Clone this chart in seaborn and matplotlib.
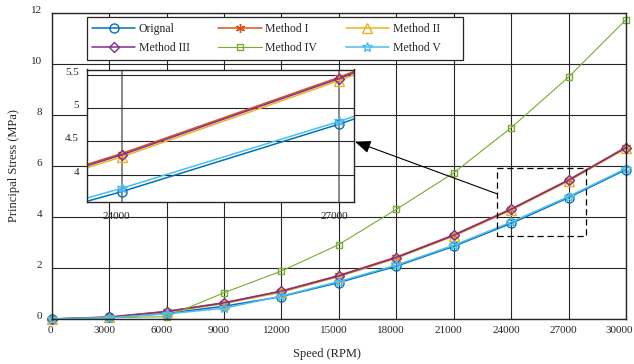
import matplotlib
matplotlib.use("Agg")
import matplotlib.pyplot as plt
from matplotlib.patches import Rectangle
from matplotlib.transforms import ScaledTranslation
import pandas as pd
import seaborn as sns

# Rotor speed (RPM) and principal stress (MPa) for each method
speed = [0, 3000, 6000, 9000, 12000, 15000, 18000, 21000, 24000, 27000, 30000]
original = [0.00, 0.06, 0.22, 0.50, 0.88, 1.43, 2.07, 2.85, 3.75, 4.76, 5.86]
method_1 = [0.00, 0.08, 0.30, 0.64, 1.10, 1.71, 2.43, 3.30, 4.32, 5.46, 6.74]
method_2 = [0.00, 0.06, 0.27, 0.60, 1.05, 1.66, 2.38, 3.25, 4.27, 5.41, 6.69]
method_3 = [0.00, 0.07, 0.29, 0.63, 1.09, 1.69, 2.41, 3.28, 4.30, 5.44, 6.72]
method_4 = [0.00, 0.05, 0.09, 1.03, 1.88, 2.92, 4.30, 5.73, 7.50, 9.49, 11.74]
method_5 = [0.00, 0.05, 0.20, 0.42, 0.90, 1.47, 2.11, 2.89, 3.80, 4.80, 5.90]

names = ["Orignal", "Method I", "Method II", "Method III", "Method IV", "Method V"]
values = [original, method_1, method_2, method_3, method_4, method_5]

x_ticks = [0, 3000, 6000, 9000, 12000, 15000, 18000, 21000, 24000, 27000, 30000]
y_ticks = [0, 2, 4, 6, 8, 10, 12]
zoom_x_ticks = [24000, 27000]
zoom_y_ticks = [4, 4.5, 5, 5.5]
zoom_y_labels = ["4", "4.5", "5", "5.5"]

df = pd.DataFrame(
    [(n, s, v) for n, vals in zip(names, values) for s, v in zip(speed, vals)],
    columns=["method", "speed", "stress"],
)

styles = {
    "Orignal":    dict(color="#0072BD", marker="o", ms=6.5, lw=1.1),
    "Method I":   dict(color="#D95319", marker=(6, 2, 0), ms=6.5, lw=1.1),
    "Method II":  dict(color="#EDB120", marker="^", ms=6.5, lw=1.1),
    "Method III": dict(color="#7E2F8E", marker="D", ms=5.0, lw=1.1),
    "Method IV":  dict(color="#77AC30", marker="s", ms=5.0, lw=0.8),
    "Method V":   dict(color="#4DBEEE", marker="*", ms=7.5, lw=1.1),
}

sns.set_theme(style="white")
plt.rcParams["font.family"] = ["Liberation Serif", "DejaVu Serif"]
TXT = "#262626"

W, H = 634, 364
fig = plt.figure(figsize=(W / 100, H / 100), dpi=100)


def fx(px):
    return px / W


def fy(py):
    return 1 - py / H


def shift(label, dx_px, dy_px):
    label.set_transform(label.get_transform()
                        + ScaledTranslation(dx_px / 100, dy_px / 100, fig.dpi_scale_trans))


def draw_series(axis, clip):
    for name in names:
        st = styles[name]
        sns.lineplot(
            data=df[df["method"] == name], x="speed", y="stress", ax=axis,
            color=st["color"], marker=st["marker"], markersize=st["ms"],
            markerfacecolor="none", markeredgecolor=st["color"],
            markeredgewidth=1.0, linewidth=st["lw"], errorbar=None,
            sort=False, legend=False, clip_on=clip,
        )


def frame(axis):
    for sp in axis.spines.values():
        sp.set_visible(True)
        sp.set_color(TXT)
        sp.set_linewidth(1.0)


# ---- main axes ----
ax = fig.add_axes([fx(51.7), fy(319), fx(626) - fx(51.7), fy(13) - fy(319)])
ax.set_facecolor("white")
draw_series(ax, clip=False)
ax.set_xlim(0, 30000)
ax.set_ylim(0, 12)
ax.set_xticks(x_ticks)
ax.set_xticklabels([str(t) for t in x_ticks])
ax.set_yticks(y_ticks)
ax.set_yticklabels([str(t) for t in y_ticks])
ax.set_axisbelow(True)
ax.grid(True, color=TXT, lw=0.8)
frame(ax)
ax.tick_params(axis="x", length=0, pad=5, labelsize=8, labelcolor=TXT)
ax.tick_params(axis="y", length=0, pad=7, labelsize=8, labelcolor=TXT)
xlabels = ax.get_xticklabels()
for i, lab in enumerate(xlabels):
    if i == 0:
        dx = -1
    elif i == len(xlabels) - 1:
        dx = -7
    else:
        dx = -5
    shift(lab, dx, 0)
for lab in ax.get_yticklabels():
    shift(lab, 0, 3.5)

ax.set_xlabel("Speed (RPM)", fontsize=9, color=TXT)
ax.set_ylabel("Principal Stress (MPa)", fontsize=9, color=TXT)
ax.xaxis.set_label_coords((327 - 51.7) / (626 - 51.7), (319 - 354.3) / (319 - 13))
ax.xaxis.label.set_verticalalignment("center")
ax.yaxis.set_label_coords((14 - 51.7) / (626 - 51.7), 0.5)
ax.yaxis.label.set_verticalalignment("center")

# dashed box marking the zoomed region, with an arrow to the inset
ax.add_patch(Rectangle((23242, 3.27), 27909 - 23242, 5.93 - 3.27,
                       fill=False, edgecolor="black", lw=0.9,
                       linestyle=(0, (5, 3)), zorder=3))
ax.annotate("", xy=(15836, 6.958), xytext=(23242, 4.914),
            arrowprops=dict(arrowstyle="-|>,head_length=0.8,head_width=0.32",
                            color="black", lw=0.8, shrinkA=0, shrinkB=0),
            zorder=3)

# legend box and entries
ax.add_patch(Rectangle((fx(86.7), fy(60)), fx(463.3) - fx(86.7), fy(17.3) - fy(60),
                       transform=fig.transFigure, facecolor="white",
                       edgecolor=TXT, lw=0.9, zorder=4, clip_on=False))
handles = {n: ln for n, ln in zip(names, ax.lines)}
order = ["Orignal", "Method III", "Method I", "Method IV", "Method II", "Method V"]
leg = ax.legend([handles[n] for n in order], order, ncol=3, frameon=False,
                loc="upper left", bbox_to_anchor=(fx(91.7), fy(23.0)),
                bbox_transform=fig.transFigure, borderpad=0, borderaxespad=0,
                handlelength=3.7, handletextpad=0.3, columnspacing=2.4,
                labelspacing=0.62, fontsize=8.5, numpoints=1)
for t in leg.get_texts():
    t.set_color(TXT)
leg.set_zorder(5)

# ---- zoomed inset ----
axins = fig.add_axes([fx(87.3), fy(201.7), fx(354.3) - fx(87.3), fy(69.5) - fy(201.7)])
axins.set_facecolor("white")
draw_series(axins, clip=True)
axins.set_xlim(23526, 27207)
axins.set_ylim(3.60, 5.575)
axins.set_xticks(zoom_x_ticks)
axins.set_xticklabels([str(t) for t in zoom_x_ticks])
axins.set_yticks(zoom_y_ticks)
axins.set_yticklabels(zoom_y_labels)
axins.set_axisbelow(True)
axins.xaxis.grid(True, color="#8a8a8a", lw=1.4)
axins.yaxis.grid(True, color=TXT, lw=0.8)
frame(axins)
axins.tick_params(axis="x", length=0, pad=7.5, labelsize=8, labelcolor=TXT)
axins.tick_params(axis="y", length=0, pad=6, labelsize=8, labelcolor=TXT)
for lab in axins.get_xticklabels():
    shift(lab, -5, 0)
for lab in axins.get_yticklabels():
    shift(lab, 0, 3.5)
axins.set_xlabel("")
axins.set_ylabel("")

fig.savefig("out.png", dpi=100)
